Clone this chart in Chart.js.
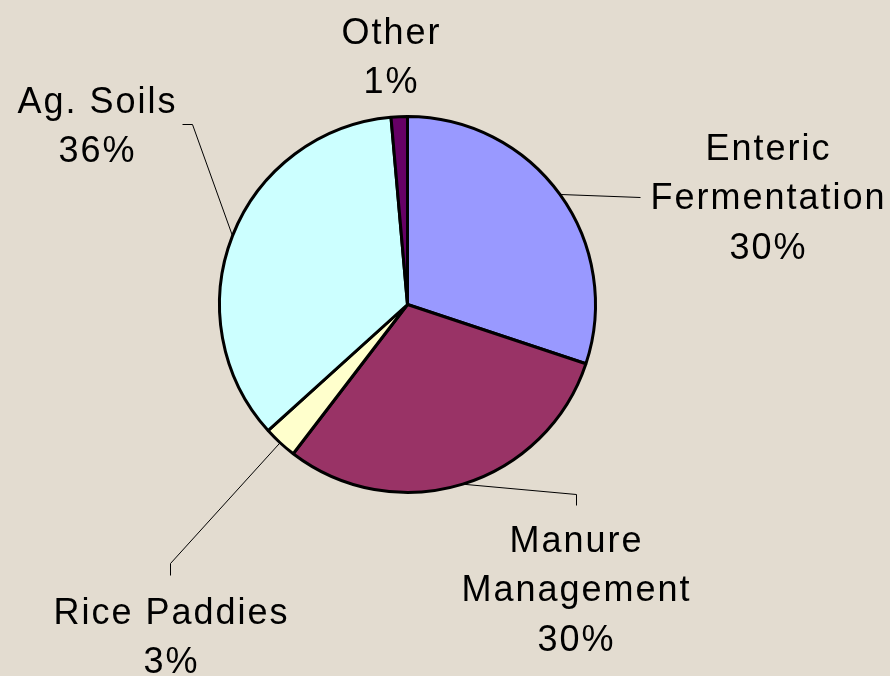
<!DOCTYPE html>
<html>
<head>
<meta charset="utf-8">
<script src="https://cdn.jsdelivr.net/npm/chart.js@4.4.0/dist/chart.umd.min.js"></script>
<style>
  body { margin: 0; background: #e3dcd0; }
  #wrap { width: 890px; height: 676px; }
</style>
</head>
<body>
<div id="wrap"><canvas id="methane" width="890" height="676"></canvas></div>
<script>
// slices, clockwise from 12 o'clock
const categories = ['Enteric Fermentation', 'Manure Management', 'Rice Paddies', 'Ag. Soils', 'Other'];
const shares = [30.1, 30.3, 2.9, 35.3, 1.4];
const pctLabels = ['30%', '30%', '3%', '36%', '1%'];
const labelLines = [
    ['Enteric', 'Fermentation'],
    ['Manure', 'Management'],
    ['Rice Paddies'],
    ['Ag. Soils'],
    ['Other']
];
const sliceColors = ['#9999ff', '#993366', '#ffffcc', '#ccffff', '#660066'];

// where each label sits, relative to pie centre (text centre x, first baseline y)
// and the elbow points of its leader line
const labelLayout = [
    { x: 360, y: -145, leader: [[233, -107]] },
    { x: 168, y: 247, leader: [[169, 190], [169, 201]] },
    { x: -237, y: 319, leader: [[-237, 259], [-237, 271]] },
    { x: -311, y: -192, leader: [[-215, -180], [-225, -180]] },
    { x: -17, y: -261, leader: null }
];

const calloutPlugin = {
    id: 'callouts',
    afterDraw(chart) {
        const c = chart.ctx;
        const arcs = chart.getDatasetMeta(0).data;
        c.save();
        arcs.forEach(function (arc, i) {
            const lay = labelLayout[i];
            const cx = arc.x, cy = arc.y;
            if (lay.leader) {
                const mid = (arc.startAngle + arc.endAngle) / 2;
                c.beginPath();
                c.moveTo(cx + Math.cos(mid) * arc.outerRadius, cy + Math.sin(mid) * arc.outerRadius);
                lay.leader.forEach(function (p) { c.lineTo(cx + p[0], cy + p[1]); });
                c.strokeStyle = '#000';
                c.lineWidth = 1;
                c.stroke();
            }
            const lines = labelLines[i].concat([pctLabels[i]]);
            c.fillStyle = '#000';
            c.font = '36px "Liberation Sans", Arial, sans-serif';
            c.letterSpacing = '2px';
            c.textAlign = 'center';
            c.textBaseline = 'alphabetic';
            lines.forEach(function (t, k) {
                // letterSpacing adds trailing space, shift by half of it
                c.fillText(t, cx + lay.x + 1, cy + lay.y + k * 49.5);
            });
        });
        c.restore();
    }
};

new Chart(document.getElementById('methane'), {
    type: 'pie',
    data: {
        labels: categories,
        datasets: [{
            data: shares,
            backgroundColor: sliceColors,
            borderColor: '#000',
            borderWidth: 3
        }]
    },
    options: {
        responsive: false,
        animation: false,
        layout: { padding: { left: 218, right: 293, top: 115, bottom: 182 } },
        plugins: {
            legend: { display: false },
            tooltip: { enabled: false }
        }
    },
    plugins: [calloutPlugin]
});
</script>
</body>
</html>
